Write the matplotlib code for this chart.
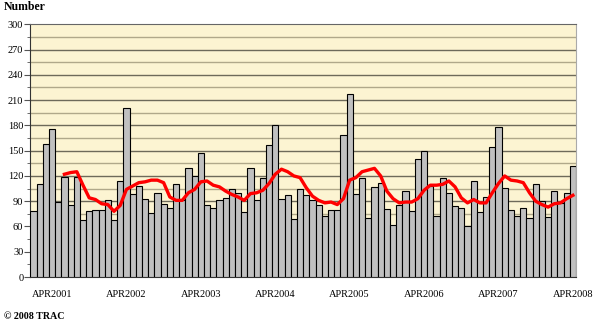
import numpy as np
import matplotlib
matplotlib.use("Agg")
from matplotlib import pyplot as plt

# monthly counts, JAN2001 .. APR2008
counts = [78, 111, 158, 176, 89, 119, 86, 119, 68, 78, 80, 79,
          91, 68, 114, 201, 99, 108, 93, 76, 100, 87, 82, 110,
          91, 129, 120, 147, 85, 82, 92, 94, 105, 100, 77, 129,
          92, 117, 157, 181, 93, 97, 69, 105, 97, 91, 85, 73,
          79, 79, 168, 217, 98, 118, 70, 107, 112, 81, 62, 86,
          102, 78, 140, 150, 108, 73, 117, 100, 84, 82, 61, 114,
          77, 95, 154, 178, 106, 79, 73, 82, 70, 111, 90, 71,
          102, 88, 100, 132]

# moving average line, JUN2001 .. APR2008
trend = [122, 124, 125, 109, 94, 92, 87, 86, 78, 85, 104, 108,
         112, 113, 115, 115, 112, 95, 91, 91, 100, 104, 113, 114,
         109, 107, 102, 98, 95, 91, 99, 100, 103, 111, 122, 128,
         125, 120, 118, 106, 96, 91, 88, 89, 86, 93, 115, 118,
         125, 127, 129, 120, 102, 93, 88, 89, 89, 93, 103, 109,
         109, 110, 114, 107, 94, 88, 92, 88, 88, 100, 111, 120,
         115, 114, 112, 100, 90, 86, 83, 87, 88, 93, 97]

tick_pos = [3, 15, 27, 39, 51, 63, 75, 87]
tick_labels = ["APR2001", "APR2002", "APR2003", "APR2004",
               "APR2005", "APR2006", "APR2007", "APR2008"]

plt.rcParams['font.family'] = ['Liberation Serif', 'DejaVu Serif']

fig = plt.figure(figsize=(6, 3.24), dpi=100)
ax = fig.add_axes([0.0505, 0.145, 0.9095, 0.78])
ax.set_facecolor('#fcf4d2')

x = np.arange(len(counts))
ax.bar(x, counts, width=1.0, color='#c0c0c0', edgecolor='black', linewidth=0.8, zorder=3)
tx = np.arange(len(counts) - len(trend), len(counts))
ax.plot(tx, trend, color='red', linewidth=2.4, zorder=4)

for v in range(15, 300, 15):
    if v % 30 == 0:
        ax.axhline(v, color='#6e6a5a', linewidth=1.0, zorder=1)
    else:
        ax.axhline(v, color='#b0a88a', linewidth=1.0, zorder=1)

ax.set_xlim(-0.5, len(counts) - 0.5)
ax.set_ylim(0, 300)
ax.set_yticks(range(0, 301, 30))
ax.set_yticks(range(15, 300, 30), minor=True)
ax.set_xticks(tick_pos)
ax.set_xticklabels(tick_labels)
ax.tick_params(axis='x', length=0, pad=9, labelsize=7.5)
ax.tick_params(axis='y', which='major', length=4, labelsize=7.5, pad=1, color='#555555')
ax.tick_params(axis='y', which='minor', length=2, color='#555555')

ax.spines['left'].set_color('#333333')
ax.spines['bottom'].set_color('#333333')
ax.spines['top'].set_color('#666666')
ax.spines['right'].set_color('#aaaaaa')

fig.text(0.007, 0.978, "Number", fontsize=8.5, fontweight='bold', va='center', ha='left')
fig.text(0.007, 0.022, "\u00a9 2008 TRAC", fontsize=7.2, fontweight='bold', va='center', ha='left')

fig.savefig("out.png", dpi=100)
